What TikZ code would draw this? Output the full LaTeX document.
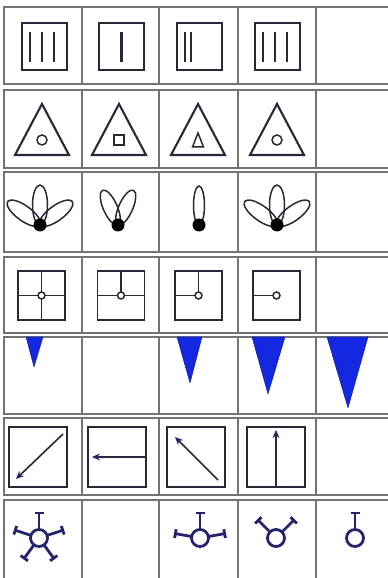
\documentclass[tikz,border=0pt]{standalone}
\usepackage{xcolor}
\usepackage{tikz}
\usetikzlibrary{arrows.meta}
\definecolor{gridgray}{RGB}{115,115,115}
\definecolor{inkdark}{RGB}{40,40,55}
\definecolor{markblue}{RGB}{20,40,225}
\definecolor{inknavy}{RGB}{35,35,110}

\begin{document}
\begin{tikzpicture}[x=1pt, y=1pt,
    band/.style={draw=gridgray, line width=1.2pt},
    box/.style={draw=inkdark, line width=2.1pt},
    thinbox/.style={draw=inkdark, line width=1.5pt},
    petal/.style={draw=inkdark, line width=1.5pt},
    wedge/.style={fill=markblue, draw=markblue!60!black, line width=0.4pt, line join=round},
    arr/.style={-{Stealth[length=8pt, width=7pt, color=inknavy]}, draw=inkdark, line width=1.6pt},
    spoke/.style={draw=inknavy, line width=2.8pt}]
  \useasboundingbox (0,0) rectangle (388,578);
  % bands of cells
  \foreach \yt/\yb in {571/494, 488/410, 406/326, 321/245, 241/164, 160/83, 78/-3} {
    \draw[band] (4,\yb) rectangle (392,\yt);
    \foreach \x in {82,159,238,316} \draw[band] (\x,\yb) -- (\x,\yt);
  }
  % row 1: boxes with strokes
  \foreach \x/\lines in {22/{8,20,32}, 99/{22.5}, 177/{8,14}, 255/{8,20,32}} {
    \draw[box] (\x,508) rectangle ++(45,47);
    \foreach \d in \lines \draw[box] (\x+\d,516) -- (\x+\d,546);
  }
  % row 2: triangles with inner marks
  \foreach \x in {42,119,198,277}
    \draw[box, line join=miter] (\x,474) -- (\x+27,423) -- (\x-27,423) -- cycle;
  \draw[thinbox] (42,438) circle[radius=5];
  \draw[thinbox] (114,433) rectangle (124,443);
  \draw[thinbox] (198,445) -- (203.5,431) -- (192.5,431) -- cycle;
  \draw[thinbox] (277,438) circle[radius=5];
  % row 3: flowers
  \foreach \x/\angles/\len/\w in {40/{144,90,36}/20/7.5, 118/{114,66}/19/7,
      199/{90}/19.5/5.5, 277/{144,90,36}/20/7.5} {
    \foreach \a in \angles
      \draw[petal] (\x,353) ++(\a:\len) ellipse[x radius=\len, y radius=\w, rotate=\a];
    \fill[black] (\x,353) circle[radius=6.5];
  }
  % row 4: boxes with arms
  \foreach \x/\arms in {41.5/{90,180,0,270}, 121/{90,180,0}, 198.5/{90,180}, 276.5/{180}} {
    \draw[thinbox] (\x-23.5,258) rectangle (\x+23.5,307);
    \foreach \a in \arms \draw[thinbox] (\x,282.5) -- ++(\a:24);
    \draw[thinbox, fill=white] (\x,282.5) circle[radius=3.5];
  }
  % row 5: wedges
  \fill[wedge] (26,241) -- (43,241) -- (34,211) -- cycle;
  \fill[wedge] (177,241) -- (202,241) -- (190,195) -- cycle;
  \fill[wedge] (252,241) -- (285,241) -- (268,184) -- cycle;
  \fill[wedge] (327,241) -- (368,241) -- (348,170) -- cycle;
  % row 6: boxes with arrows
  \foreach \x in {9,88,167,247} \draw[box, line width=1.8pt] (\x,91) rectangle ++(58,60);
  \draw[arr] (63,144) -- (16,99);
  \draw[arr] (147,121) -- (92,121);
  \draw[arr] (218,98) -- (175,141);
  \draw[arr] (276,91) -- (276,148);
  % row 7: rings with barred spokes
  \foreach \x/\angles in {39/{90,18,162,-54,234}, 200/{90,10,170}, 276/{45,135}, 355/{90}} {
    \draw[spoke] (\x,40) circle[radius=8.5];
    \foreach \a in \angles {
      \begin{scope}[shift={(\x,40)}, rotate=\a]
        \draw[spoke] (8.5,0) -- (25,0) (25,-4.5) -- (25,4.5);
      \end{scope}
    }
  }
\end{tikzpicture}
\end{document}
